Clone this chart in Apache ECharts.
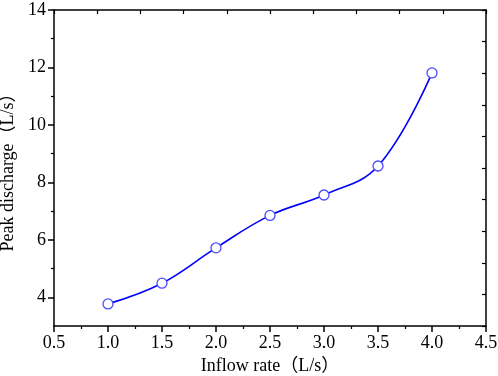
<!DOCTYPE html>
<html>
<head>
<meta charset="utf-8">
<script src="https://cdn.jsdelivr.net/npm/echarts@6/dist/echarts.min.js"></script>
<style>
  html, body { margin: 0; padding: 0; background: #fff; }
  #main { width: 498px; height: 376px; }
</style>
</head>
<body>
<div id="main"></div>
<script>
// data
const inflow = [1.0, 1.5, 2.0, 2.5, 3.0, 3.5, 4.0];
const peak = [3.77, 4.49, 5.72, 6.85, 7.56, 8.57, 11.81];
const yMajor = [4, 6, 8, 10, 12, 14];
const yMinor = [5, 7, 9, 11, 13];

const font = '"Liberation Serif", "Times New Roman", "Noto Sans CJK SC", serif';
const black = '#000';

let chart = echarts.init(document.getElementById('main'));

let option = {
  animation: false,
  backgroundColor: '#fff',
  grid: { left: 54, right: 12, top: 10, bottom: 50, outerBoundsMode: 'none' },
  xAxis: [
    {
      type: 'value',
      min: 0.5,
      max: 4.5,
      interval: 0.5,
      name: 'Inflow rate（L/s）',
      nameLocation: 'middle',
      nameGap: 31,
      nameTextStyle: { fontFamily: font, fontSize: 18, color: black },
      axisLine: { show: true, lineStyle: { color: black, width: 1.5 } },
      axisTick: { show: true, length: 6, lineStyle: { color: black, width: 1.5 } },
      minorTick: { show: true, splitNumber: 2, length: 3, lineStyle: { color: black, width: 1.2 } },
      axisLabel: {
        fontFamily: font, fontSize: 18, color: black, margin: 8,
        formatter: v => v.toFixed(1)
      },
      splitLine: { show: false }
    },
    {
      // mirror axis on top
      type: 'value',
      position: 'top',
      min: 0,
      max: 10,
      interval: 1,
      axisLine: { show: true, onZero: false, lineStyle: { color: black, width: 1.5 } },
      axisTick: { show: true, inside: true, length: 4, lineStyle: { color: black, width: 1.2 } },
      axisLabel: { show: false },
      splitLine: { show: false }
    }
  ],
  yAxis: [
    {
      type: 'value',
      min: 3,
      max: 14,
      interval: 1,
      name: 'Peak discharge（L/s）',
      nameLocation: 'middle',
      nameGap: 32,
      nameTextStyle: { fontFamily: font, fontSize: 18, color: black },
      axisLine: { show: true, lineStyle: { color: black, width: 1.5 } },
      axisTick: { show: true, length: 6, customValues: yMajor, lineStyle: { color: black, width: 1.5 } },
      axisLabel: {
        fontFamily: font, fontSize: 18, color: black, margin: 8,
        customValues: yMajor
      },
      splitLine: { show: false }
    },
    {
      // mirror axis on the right
      type: 'value',
      position: 'right',
      min: 0,
      max: 10,
      interval: 1,
      axisLine: { show: true, onZero: false, lineStyle: { color: black, width: 1.5 } },
      axisTick: { show: true, inside: true, length: 4, lineStyle: { color: black, width: 1.2 } },
      axisLabel: { show: false },
      splitLine: { show: false }
    },
    {
      // minor ticks for the left axis
      type: 'value',
      position: 'left',
      min: 3,
      max: 14,
      interval: 1,
      axisLine: { show: false },
      axisTick: { show: true, length: 3, customValues: yMinor, lineStyle: { color: black, width: 1.2 } },
      axisLabel: { show: false },
      splitLine: { show: false }
    }
  ],
  series: [
    {
      type: 'line',
      xAxisIndex: 0,
      yAxisIndex: 0,
      data: inflow.map((x, i) => [x, peak[i]]),
      smooth: 0.4,
      symbol: 'circle',
      symbolSize: 10,
      showSymbol: true,
      lineStyle: { color: '#0000ff', width: 1.6 },
      itemStyle: { color: '#fff', borderColor: '#4a4aff', borderWidth: 1.3 }
    }
  ]
};

chart.setOption(option);
</script>
</body>
</html>
